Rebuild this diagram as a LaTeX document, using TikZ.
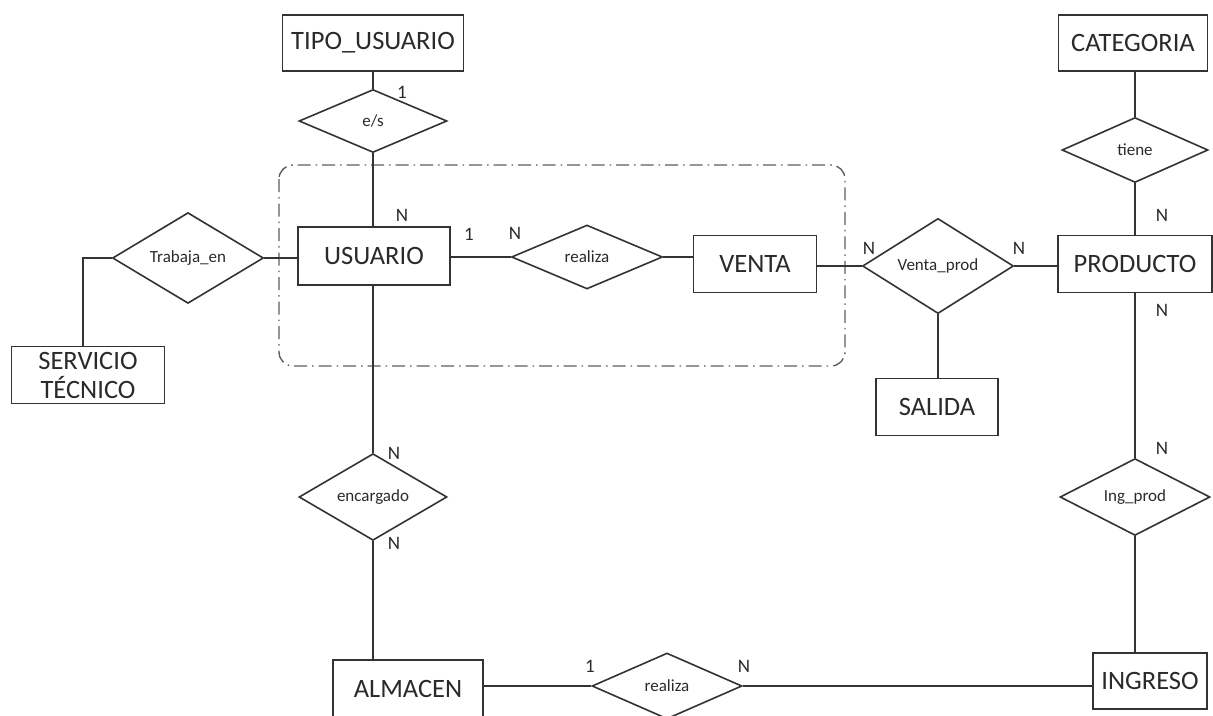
\documentclass[tikz,border=0pt]{standalone}
\usepackage{fontspec}
\setmainfont{Carlito}
\usetikzlibrary{shapes.geometric}
\definecolor{linec}{HTML}{333333}
\definecolor{textc}{HTML}{2A2A2A}
\definecolor{dashc}{HTML}{5E5E5E}
\begin{document}
\begin{tikzpicture}[x=1pt,y=-1pt,
  entity/.style={draw=linec, line width=1.6pt, fill=white, rectangle,
    minimum width=#1, minimum height=57pt, inner sep=0pt,
    font=\fontsize{26.5}{29}\selectfont, text=textc, align=center},
  entity/.default=150pt,
  relation/.style={draw=linec, line width=1.6pt, fill=white, diamond,
    minimum width=150pt, minimum height=64pt, inner sep=0pt,
    font=\fontsize{17}{20}\selectfont, text=textc},
  card/.style={font=\fontsize{19}{22}\selectfont, text=textc, inner sep=0pt},
  link/.style={draw=linec, line width=1.6pt},
  group/.style={draw=dashc, line width=1.4pt,
    dash pattern=on 13pt off 5pt on 1.5pt off 5pt, rounded corners=14pt}
]
\useasboundingbox (0,0) rectangle (1213,715);
\clip (0,0) rectangle (1213,715);
\fill[white] (0,0) rectangle (1213,715);

% aggregation around USUARIO -- realiza -- VENTA
\draw[group] (279,165) rectangle (845,366);

% entities
\node[entity=181pt, minimum height=56pt] (tipo) at (373,43) {TIPO\_USUARIO};
\node[entity=152pt, minimum height=58pt] (usu) at (374,256) {USUARIO};
\node[entity=153pt] (serv) at (88,375) {SERVICIO\\TÉCNICO};
\node[entity=123pt] (venta) at (755,264) {VENTA};
\node[entity=154pt] (prod) at (1135,264) {PRODUCTO};
\node[entity=149pt, minimum height=56pt] (cat) at (1133,43) {CATEGORIA};
\node[entity=122pt] (salida) at (937,407) {SALIDA};
\node[entity=150pt, minimum height=58pt] (alm) at (408,689) {ALMACEN};
\node[entity=114pt, minimum height=56pt] (ing) at (1150,681) {INGRESO};

% relationships
\node[relation, minimum width=148pt, minimum height=63pt] (es) at (373,121) {e/s};
\node[relation, minimum width=151pt, minimum height=63pt] (trab) at (188,258) {Trabaja\_en};
\node[relation, minimum width=151pt] (real1) at (587,257) {realiza};
\node[relation, minimum width=151pt] (vprod) at (938,266) {Venta\_prod};
\node[relation, minimum width=146pt, minimum height=65pt] (tiene) at (1135,150) {tiene};
\node[relation, minimum width=148pt, minimum height=63pt] (enc) at (373,497) {encargado};
\node[relation, minimum width=150pt, minimum height=63pt] (ingp) at (1135,497) {Ing\_prod};
\node[relation, minimum width=150pt, minimum height=66pt] (real2) at (667,686) {realiza};

% connectors
\draw[link] (tipo.south) -- (es.north);
\draw[link] (es.south) -- (es.south |- usu.north);
\draw[link] (trab.east) -- (usu.west |- trab.east);
\draw[link] (trab.west) -| ([xshift=-5pt]serv.north);
\draw[link] (usu.east |- real1.west) -- (real1.west);
\draw[link] (real1.east) -- (venta.west |- real1.east);
\draw[link] (venta.east |- vprod.west) -- (vprod.west);
\draw[link] (vprod.east) -- (prod.west |- vprod.east);
\draw[link] (vprod.south) -- (vprod.south |- salida.north);
\draw[link] (tiene.north |- cat.south) -- (tiene.north);
\draw[link] (tiene.south) -- (tiene.south |- prod.north);
\draw[link] (ingp.north |- prod.south) -- (ingp.north);
\draw[link] (ingp.south) -- (ingp.south |- ing.north);
\draw[link] (usu.south -| enc.north) -- (enc.north);
\draw[link] (enc.south) -- (enc.south |- alm.north);
\draw[link] (alm.east |- real2.west) -- (real2.west);
\draw[link] (real2.east) -- (ing.west |- real2.east);

% cardinalities
\node[card] (c1) at (402,92) {1};
\node[card] (c2) at (402,215) {N};
\node[card] (c3) at (469,234) {1};
\node[card] (c4) at (515,233) {N};
\node[card] (c5) at (869,248) {N};
\node[card] (c6) at (1019,248) {N};
\node[card] (c7) at (1162,215) {N};
\node[card] (c8) at (1162,310) {N};
\node[card] (c9) at (1162,448) {N};
\node[card] (c10) at (394,453) {N};
\node[card] (c11) at (394,543) {N};
\node[card] (c12) at (590,666) {1};
\node[card] (c13) at (744,666) {N};
\end{tikzpicture}
\end{document}
